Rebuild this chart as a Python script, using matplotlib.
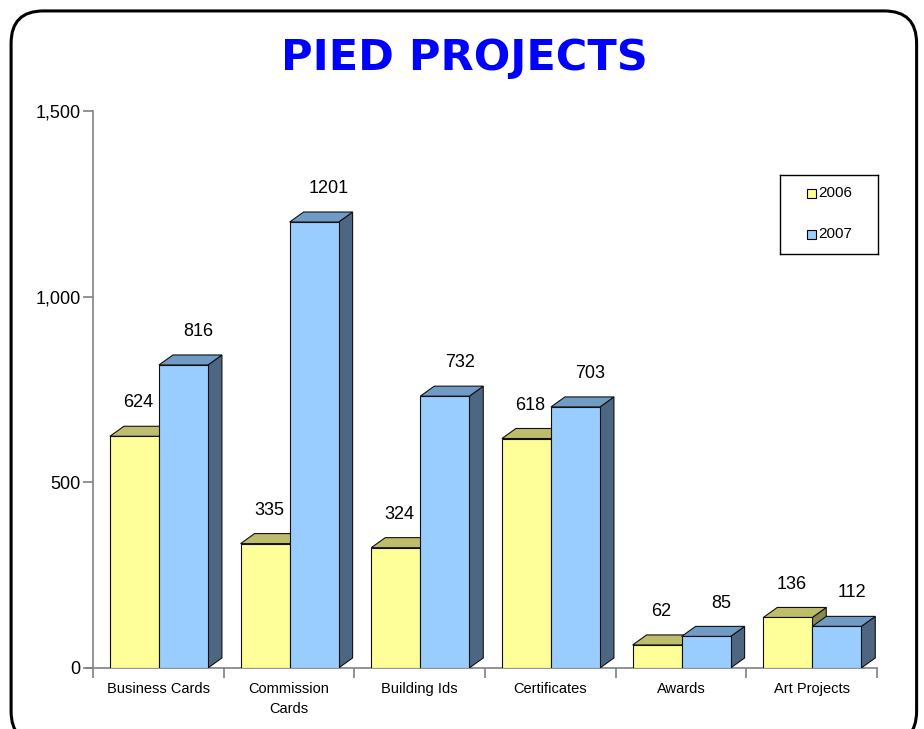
import matplotlib.pyplot as plt
from matplotlib.patches import Polygon, FancyBboxPatch, Rectangle
from matplotlib.ticker import FuncFormatter

plt.rcParams['font.family'] = ['Liberation Sans', 'DejaVu Sans']

# data
categories = ["Business Cards", "Commission\nCards", "Building Ids", "Certificates", "Awards", "Art Projects"]
series_names = ["2006", "2007"]
vals_2006 = [624, 335, 324, 618, 62, 136]
vals_2007 = [816, 1201, 732, 703, 85, 112]

face_cols = ["#FFFF99", "#99CCFF"]
top_cols = ["#BDBD6B", "#6F9BC5"]
side_cols = ["#8A8A4A", "#4D6782"]

fig = plt.figure(figsize=(9.24, 7.29), dpi=100)
fig.patch.set_facecolor("white")

# rounded frame
frame = FancyBboxPatch((0.012, -0.02), 0.98, 1.005, boxstyle="round,pad=0,rounding_size=0.035",
                       transform=fig.transFigure, fill=False, lw=2.2, ec="black",
                       mutation_aspect=924 / 729)
fig.patches.append(frame)

fig.text(0.503, 0.92, "PIED PROJECTS", ha="center", va="center", color="#0000FF",
         fontsize=31, fontweight="heavy", family="DejaVu Sans")

ax = fig.add_axes([0.1006, 0.0837, 0.8485, 0.764])
ax.set_xlim(0, 6)
ax.set_ylim(0, 1500)

bw = 0.375
x0 = 0.13
dx = 0.107   # depth in x units
dy = 27      # depth in y units
edge = "#111111"

for i in range(len(categories)):
    for s, vals in enumerate([vals_2006, vals_2007]):
        v = vals[i]
        left = i + x0 + s * bw
        right = left + bw
        # side face
        ax.add_patch(Polygon([(right, 0), (right + dx, dy), (right + dx, v + dy), (right, v)],
                             closed=True, fc=side_cols[s], ec=edge, lw=0.8, zorder=3 + s))
        # top face
        ax.add_patch(Polygon([(left, v), (left + dx, v + dy), (right + dx, v + dy), (right, v)],
                             closed=True, fc=top_cols[s], ec=edge, lw=0.8, zorder=3 + s))
        # front face
        ax.add_patch(Rectangle((left, 0), bw, v, fc=face_cols[s], ec=edge, lw=0.8, zorder=3 + s))
        off = 0.03 if s == 0 else 0.115
        ax.text(left + bw / 2 + off, v + 90, str(v), ha="center", va="center",
                fontsize=13, color="black", zorder=10)

for sp in ["top", "right"]:
    ax.spines[sp].set_visible(False)
for sp in ["left", "bottom"]:
    ax.spines[sp].set_color("#808080")
    ax.spines[sp].set_linewidth(1.2)

ax.set_yticks([0, 500, 1000, 1500])
ax.yaxis.set_major_formatter(FuncFormatter(lambda v, p: f"{int(v):,}"))
ax.tick_params(axis="y", length=7, width=1.2, color="#808080", labelsize=13, pad=2)

ax.set_xticks(range(0, 7))
ax.set_xticklabels([])
ax.set_xticks([i + 0.5 for i in range(6)], minor=True)
ax.set_xticklabels(categories, minor=True, fontsize=10.5, linespacing=1.55)
ax.tick_params(axis="x", which="major", length=7, width=1.2, color="#808080")
ax.tick_params(axis="x", which="minor", length=0, pad=10)
ax.spines["bottom"].set_bounds(-0.055, 6)

# legend
lx = fig.add_axes([780 / 924, 1 - 254 / 729, 98 / 924, 79 / 729])
lx.set_xlim(0, 98)
lx.set_ylim(79, 0)
lx.set_xticks([])
lx.set_yticks([])
for sp in lx.spines.values():
    sp.set_linewidth(1.0)
    sp.set_color("black")
for k, name in enumerate(series_names):
    yc = 18 + k * 41
    lx.add_patch(Rectangle((27, yc - 4.5), 9, 9, fc=face_cols[k], ec="black", lw=0.8))
    lx.text(38, yc, name, ha="left", va="center", fontsize=11)

fig.savefig("out.png", dpi=100)
